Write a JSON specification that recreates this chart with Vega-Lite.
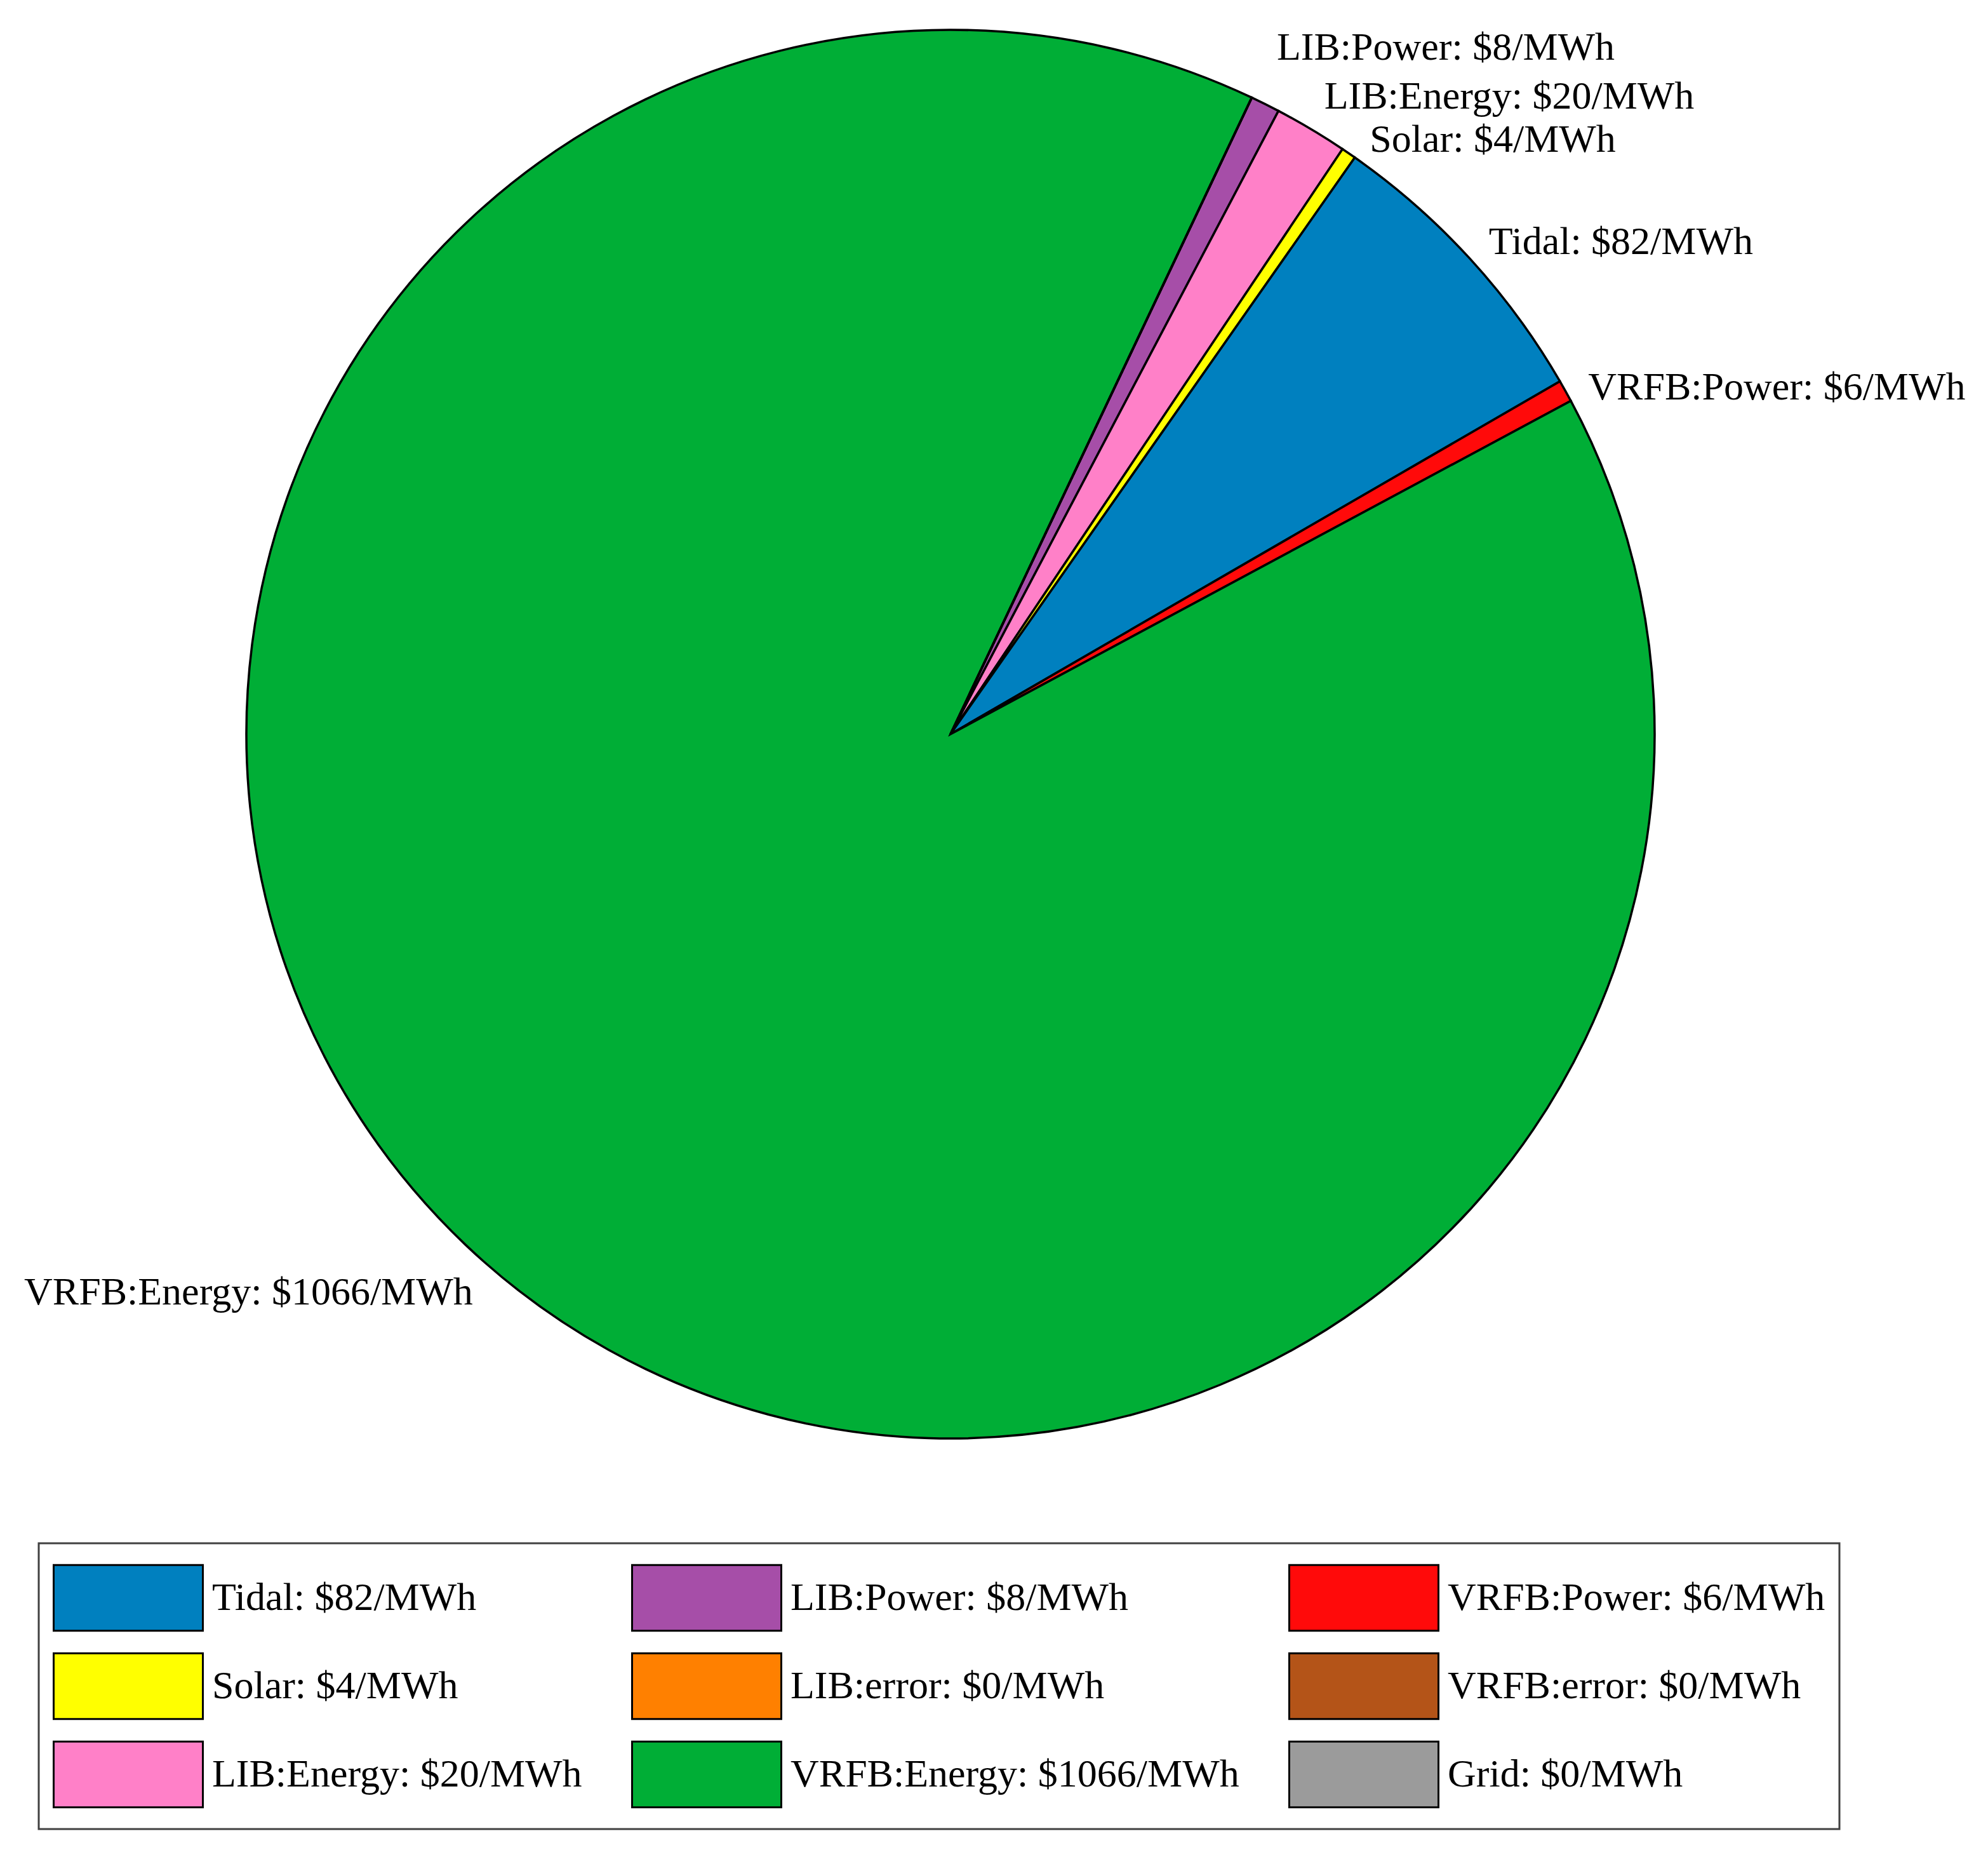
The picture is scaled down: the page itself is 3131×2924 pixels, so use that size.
{
  "$schema": "https://vega.github.io/schema/vega-lite/v6.json",
  "width": 2994,
  "height": 2312,
  "autosize": {"type": "none"},
  "padding": {"left": 0, "top": 0, "right": 137, "bottom": 612},
  "background": "white",
  "config": {"view": {"stroke": null}, "font": "Liberation Serif", "legend": {"strokeWidth": 3}},
  "data": {
    "values": [
      {"label": "LIB:Power: $8/MWh", "value": 8, "slice": 1},
      {"label": "LIB:Energy: $20/MWh", "value": 20, "slice": 2},
      {"label": "Solar: $4/MWh", "value": 4, "slice": 3},
      {"label": "Tidal: $82/MWh", "value": 82, "slice": 4},
      {"label": "VRFB:Power: $6/MWh", "value": 6, "slice": 5},
      {"label": "VRFB:Energy: $1066/MWh", "value": 1066, "slice": 6},
      {"label": "LIB:error: $0/MWh", "value": 0, "slice": 7},
      {"label": "VRFB:error: $0/MWh", "value": 0, "slice": 8},
      {"label": "Grid: $0/MWh", "value": 0, "slice": 9}
    ]
  },
  "encoding": {
    "theta": {"field": "value", "type": "quantitative", "stack": true, "scale": {"range": [0.4421, 6.7253]}},
    "order": {"field": "slice", "type": "quantitative", "sort": "ascending"}
  },
  "layer": [
    {
      "mark": {"type": "arc", "radius": 1109, "stroke": "black", "strokeWidth": 3.5},
      "encoding": {
        "color": {
          "field": "label",
          "type": "nominal",
          "scale": {
            "domain": ["Tidal: $82/MWh", "LIB:Power: $8/MWh", "VRFB:Power: $6/MWh", "Solar: $4/MWh", "LIB:error: $0/MWh", "VRFB:error: $0/MWh", "LIB:Energy: $20/MWh", "VRFB:Energy: $1066/MWh", "Grid: $0/MWh"],
            "range": ["#0080BF", "#A64EA8", "#FF0A0A", "#FFFF00", "#FF8000", "#B45418", "#FF80C8", "#00AE36", "#9B9B9B"]
          },
          "legend": {
            "title": null,
            "orient": "none",
            "direction": "horizontal",
            "legendX": 61,
            "legendY": 2430,
            "columns": 3,
            "symbolType": "M-1,-0.44H1V0.44H-1Z",
            "symbolSize": 55225,
            "symbolStrokeColor": "black",
            "symbolStrokeWidth": 3,
            "symbolOpacity": 1,
            "clipHeight": 128,
            "labelFont": "Liberation Serif",
            "labelFontSize": 62,
            "labelColor": "black",
            "labelLimit": 0,
            "labelOffset": 13,
            "rowPadding": 11,
            "columnPadding": 77,
            "padding": 22,
            "strokeColor": "#404040",
            "fillColor": "white"
          }
        }
      }
    },
    {
      "mark": {"type": "text", "radius": 1150, "align": "left", "baseline": "middle", "font": "Liberation Serif", "fontSize": 62, "color": "black", "dy": 2},
      "encoding": {
        "detail": {"field": "label", "type": "nominal"},
        "text": {"condition": {"test": "datum.label === 'Tidal: $82/MWh'", "field": "label"}, "value": ""}
      }
    },
    {
      "mark": {"type": "text", "radius": 1150, "align": "left", "baseline": "middle", "font": "Liberation Serif", "fontSize": 62, "color": "black", "dx": 10, "dy": 12},
      "encoding": {
        "detail": {"field": "label", "type": "nominal"},
        "text": {"condition": {"test": "datum.label === 'Solar: $4/MWh'", "field": "label"}, "value": ""}
      }
    },
    {
      "mark": {"type": "text", "radius": 1150, "align": "left", "baseline": "middle", "font": "Liberation Serif", "fontSize": 62, "color": "black", "dy": 14},
      "encoding": {
        "detail": {"field": "label", "type": "nominal"},
        "text": {"condition": {"test": "datum.label === 'VRFB:Power: $6/MWh'", "field": "label"}, "value": ""}
      }
    },
    {
      "mark": {"type": "text", "radius": 1150, "align": "left", "baseline": "middle", "font": "Liberation Serif", "fontSize": 62, "color": "black", "dy": -16},
      "encoding": {
        "detail": {"field": "label", "type": "nominal"},
        "text": {"condition": {"test": "datum.label === 'LIB:Energy: $20/MWh'", "field": "label"}, "value": ""}
      }
    },
    {
      "mark": {"type": "text", "radius": 1150, "align": "left", "baseline": "middle", "font": "Liberation Serif", "fontSize": 62, "color": "black", "dy": -52},
      "encoding": {
        "detail": {"field": "label", "type": "nominal"},
        "text": {"condition": {"test": "datum.label === 'LIB:Power: $8/MWh'", "field": "label"}, "value": ""}
      }
    },
    {
      "mark": {"type": "text", "radius": 1150, "align": "right", "baseline": "middle", "font": "Liberation Serif", "fontSize": 62, "color": "black", "dx": 40, "dy": 45},
      "encoding": {
        "detail": {"field": "label", "type": "nominal"},
        "text": {"condition": {"test": "datum.label === 'VRFB:Energy: $1066/MWh'", "field": "label"}, "value": ""}
      }
    }
  ]
}
